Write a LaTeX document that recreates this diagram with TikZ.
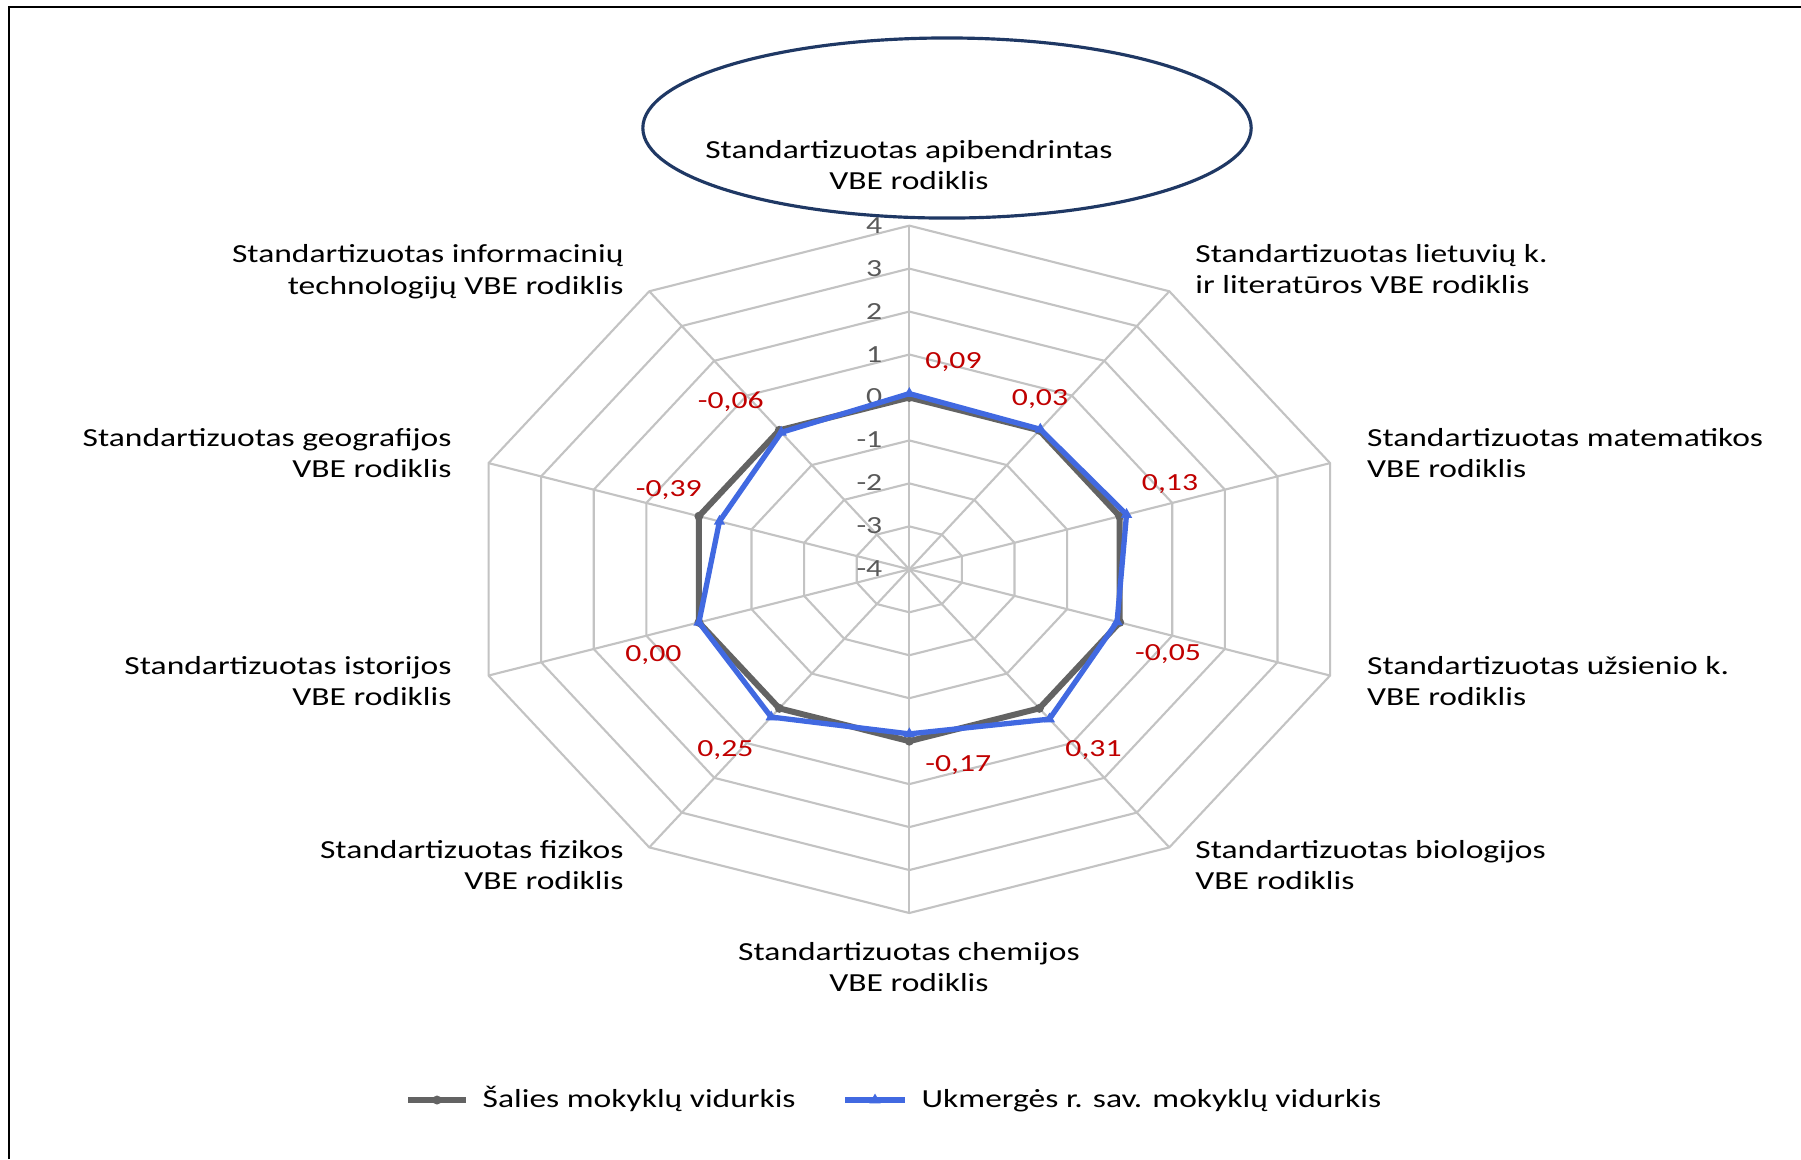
\documentclass[tikz,border=0pt]{standalone}
\usepackage{fontspec}
\setmainfont{Carlito}[FakeStretch=1.288]
\usetikzlibrary{shapes.geometric}
\definecolor{gridgray}{HTML}{C3C3C3}
\definecolor{sergray}{HTML}{636363}
\definecolor{serblue}{HTML}{4169E1}
\definecolor{lblred}{HTML}{C00000}
\definecolor{ticktxt}{HTML}{595959}
\definecolor{navyline}{HTML}{1F3864}
\tikzset{
  gridline/.style={draw=gridgray, line width=0.6pt},
  graysers/.style={draw=sergray, line width=1.7pt, line join=round},
  bluesers/.style={draw=serblue, line width=1.5pt, line join=round},
  catlbl/.style={font=\fontsize{7.4}{8.8}\selectfont, text=black, inner sep=0pt},
  vallbl/.style={font=\fontsize{7}{8.4}\selectfont, text=lblred, inner sep=0pt, anchor=base},
  ticklbl/.style={font=\fontsize{7}{8.4}\selectfont, text=ticktxt, inner sep=0pt, anchor=base east},
  graydot/.style={circle, fill=sergray, inner sep=0pt, minimum size=0.09cm},
  bluetri/.style={regular polygon, regular polygon sides=3, fill=serblue, inner sep=0pt, minimum size=0.13cm},
}
\begin{document}
\begin{tikzpicture}[x=0.01cm, y=-0.01cm]
\useasboundingbox (0,0) rectangle (1801,1159);
\fill[white] (0,0) rectangle (1801,1159);
% frame
\draw[black, line width=0.7pt] (9,1159) -- (9,7) -- (1801,7);

\coordinate (C) at (909.3,569.3);
\foreach \k in {0,...,9}{
  \foreach \r in {0,...,8}{
    \coordinate (g\k-\r) at ({909.3+55.3*\r*sin(36*\k)},{569.3-42.96*\r*cos(36*\k)});
  }
}
% grid rings
\foreach \r in {1,...,8}
  \draw[gridline] (g0-\r) -- (g1-\r) -- (g2-\r) -- (g3-\r) -- (g4-\r) -- (g5-\r) -- (g6-\r) -- (g7-\r) -- (g8-\r) -- (g9-\r) -- cycle;
% spokes
\foreach \k in {0,...,9}
  \draw[gridline] (C) -- (g\k-8);

% tick labels
\foreach \v [count=\r from 0] in {-4,...,4}
  \node[ticklbl] (t\r) at (883,{569.3-42.96*\r+7.5}) {\v};

% data
\foreach \v [count=\k from 0] in {0.09,0.03,0.13,-0.05,0.31,-0.17,0.25,0,-0.39,-0.06}
  \coordinate (b\k) at ({909.3+55.3*(\v+4)*sin(36*\k)},{569.3-42.96*(\v+4)*cos(36*\k)});

\draw[graysers] (g0-4) -- (g1-4) -- (g2-4) -- (g3-4) -- (g4-4) -- (g5-4) -- (g6-4) -- (g7-4) -- (g8-4) -- (g9-4) -- cycle;
\foreach \k in {0,...,9}
  \node[graydot] (gd\k) at (g\k-4) {};
\draw[bluesers] (b0) -- (b1) -- (b2) -- (b3) -- (b4) -- (b5) -- (b6) -- (b7) -- (b8) -- (b9) -- cycle;
\foreach \k in {0,...,9}
  \node[bluetri] (bt\k) at (b\k) {};

% value labels
\node[vallbl] (v0) at (953.5,368) {0,09};
\node[vallbl] (v1) at (1040,405) {0,03};
\node[vallbl] (v2) at (1170,490) {0,13};
\node[vallbl] (v3) at (1168,660) {-0,05};
\node[vallbl] (v4) at (1093.5,756) {0,31};
\node[vallbl] (v5) at (958.3,771.7) {-0,17};
\node[vallbl] (v6) at (725.3,756) {0,25};
\node[vallbl] (v7) at (653.3,661.7) {0,00};
\node[vallbl] (v8) at (668.8,496.7) {-0,39};
\node[vallbl] (v9) at (730.8,408) {-0,06};

% title ellipse
\node[ellipse, draw=navyline, line width=0.9pt, minimum width=6.08cm, minimum height=1.8cm, inner sep=0pt] (ell) at (947,128) {};

% category labels
\node[catlbl, anchor=base] (c0a) at (909,158.5) {Standartizuotas apibendrintas};
\node[catlbl, anchor=base] (c0b) at (909,189.5) {VBE rodiklis};
\node[catlbl, anchor=base west] (c1a) at (1194.7,262.3) {Standartizuotas lietuvių k.};
\node[catlbl, anchor=base west] (c1b) at (1194.7,293.3) {ir literatūros VBE rodiklis};
\node[catlbl, anchor=base west] (c2a) at (1366.4,446.7) {Standartizuotas matematikos};
\node[catlbl, anchor=base west] (c2b) at (1366.4,477.5) {VBE rodiklis};
\node[catlbl, anchor=base west] (c3a) at (1366.4,674) {Standartizuotas užsienio k.};
\node[catlbl, anchor=base west] (c3b) at (1366.4,705) {VBE rodiklis};
\node[catlbl, anchor=base west] (c4a) at (1194.7,858) {Standartizuotas biologijos};
\node[catlbl, anchor=base west] (c4b) at (1194.7,889) {VBE rodiklis};
\node[catlbl, anchor=base] (c5a) at (909,960) {Standartizuotas chemijos};
\node[catlbl, anchor=base] (c5b) at (909,991) {VBE rodiklis};
\node[catlbl, anchor=base east] (c6a) at (624.2,858) {Standartizuotas fizikos};
\node[catlbl, anchor=base east] (c6b) at (624.2,889) {VBE rodiklis};
\node[catlbl, anchor=base east] (c7a) at (452.2,674) {Standartizuotas istorijos};
\node[catlbl, anchor=base east] (c7b) at (452.2,705) {VBE rodiklis};
\node[catlbl, anchor=base east] (c8a) at (452.2,446.7) {Standartizuotas geografijos};
\node[catlbl, anchor=base east] (c8b) at (452.2,477.5) {VBE rodiklis};
\node[catlbl, anchor=base east] (c9a) at (624.2,262.7) {Standartizuotas informacinių};
\node[catlbl, anchor=base east] (c9b) at (624.2,294) {technologijų VBE rodiklis};

% legend
\coordinate (l1s) at (408,1100);
\coordinate (l1e) at (466,1100);
\draw[draw=sergray, line width=1.6pt] (l1s) -- (l1e);
\node[graydot] (l1m) at (437,1100) {};
\node[catlbl, anchor=base west] (leg1) at (482,1107) {Šalies mokyklų vidurkis};
\coordinate (l2s) at (845,1100);
\coordinate (l2e) at (905,1100);
\draw[draw=serblue, line width=1.6pt] (l2s) -- (l2e);
\node[bluetri] (l2m) at (875,1100) {};
\node[catlbl, anchor=base west] (leg2) at (921,1107) {Ukmergės r. sav. mokyklų vidurkis};
\end{tikzpicture}
\end{document}
